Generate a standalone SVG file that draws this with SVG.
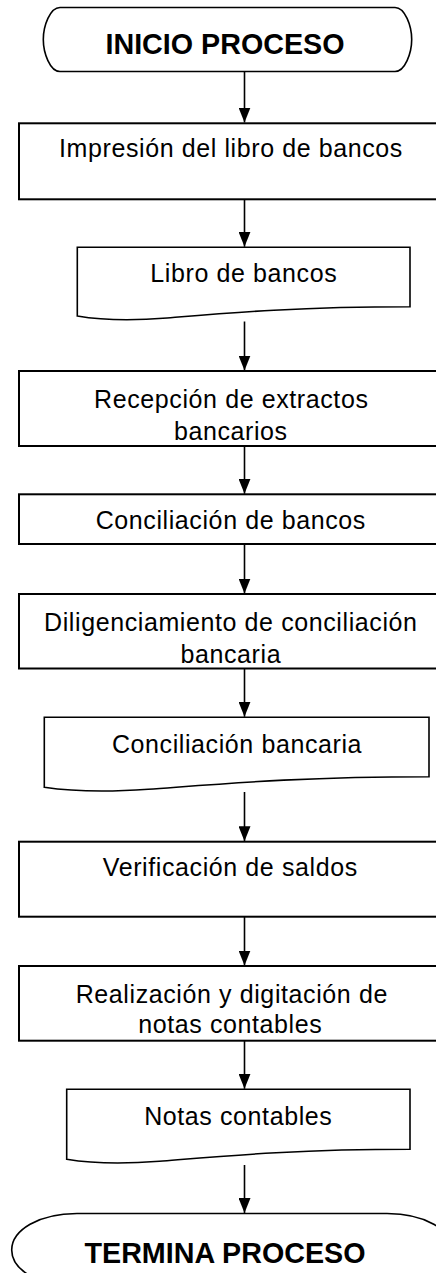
<svg xmlns="http://www.w3.org/2000/svg" width="436" height="1273" viewBox="0 0 436 1273">
<style>
.shape{fill:#fff;stroke:#000;stroke-width:1.6}
.box{fill:#fff;stroke:#000;stroke-width:2}
.t{font-family:"Liberation Sans",Arial,sans-serif;font-size:25px;letter-spacing:0.6px;text-anchor:middle;fill:#000}
.b{font-family:"Liberation Sans",Arial,sans-serif;font-size:28.7px;font-weight:bold;text-anchor:middle;fill:#000}
.c{stroke:#000;stroke-width:1.6;fill:none;marker-end:url(#ah)}
</style>
<defs>
<marker id="ah" viewBox="0 0 15 12" refX="15" refY="6" markerWidth="15" markerHeight="12" markerUnits="userSpaceOnUse" orient="auto">
<path d="M0,0 L15,6 L0,12 Z" fill="#000"/>
</marker>
</defs>
<rect width="436" height="1273" fill="#fff"/>
<g id="connectors">
<line class="c" x1="244.5" y1="72" x2="244.5" y2="122.5"/>
<line class="c" x1="244.5" y1="198" x2="244.5" y2="246.8"/>
<line class="c" x1="244.5" y1="321.5" x2="244.5" y2="370.5"/>
<line class="c" x1="244.5" y1="446" x2="244.5" y2="493.8"/>
<line class="c" x1="244.5" y1="544" x2="244.5" y2="593.5"/>
<line class="c" x1="244.5" y1="668.5" x2="244.5" y2="716.8"/>
<line class="c" x1="244.5" y1="792" x2="244.5" y2="841.2"/>
<line class="c" x1="244.5" y1="917" x2="244.5" y2="965.5"/>
<line class="c" x1="244.5" y1="1041" x2="244.5" y2="1088.8"/>
<line class="c" x1="244.5" y1="1165" x2="244.5" y2="1213"/>
</g>
<g id="inicio">
<path class="shape" d="M60,7.5 H395 C405,7.5 411.7,26 411.7,39.5 C411.7,53 405,71.5 395,71.5 H60 C50,71.5 43.3,53 43.3,39.5 C43.3,26 50,7.5 60,7.5 Z"/>
<text class="b" x="225" y="53.5">INICIO PROCESO</text>
</g>
<g id="impresion">
<rect class="box" x="19" y="123.3" width="423" height="76"/>
<text class="t" x="231" y="157">Impresión del libro de bancos</text>
</g>
<g id="libro">
<path class="shape" d="M77.3,247.3 H410 V306.7 C296.9,306.7 227,313 167.1,318 C130.5,321 100.6,320 77.3,316 Z"/>
<text class="t" x="243.8" y="281.7">Libro de bancos</text>
</g>
<g id="recepcion">
<rect class="box" x="19" y="371" width="423" height="75"/>
<text class="t" x="231.3" y="407.5">Recepción de extractos</text>
<text class="t" x="230.8" y="439.5">bancarios</text>
</g>
<g id="conciliacion-bancos">
<rect class="box" x="19" y="494.3" width="423" height="49.7"/>
<text class="t" x="230.8" y="529.3">Conciliación de bancos</text>
</g>
<g id="diligenciamiento">
<rect class="box" x="19" y="594" width="423" height="74.5"/>
<text class="t" x="230.8" y="630.7">Diligenciamiento de conciliación</text>
<text class="t" x="230.8" y="663">bancaria</text>
</g>
<g id="conciliacion-bancaria">
<path class="shape" d="M44.3,717.3 H429 V776.7 C298.2,776.7 217.4,784.3 148.2,789.3 C105.9,792.3 71.2,791.3 44.3,787.3 Z"/>
<text class="t" x="237" y="752.7">Conciliación bancaria</text>
</g>
<g id="verificacion">
<rect class="box" x="19" y="841.7" width="423" height="75"/>
<text class="t" x="230.3" y="875.7">Verificación de saldos</text>
</g>
<g id="realizacion">
<rect class="box" x="19" y="966" width="423" height="74.7"/>
<text class="t" x="231.8" y="1003.3">Realización y digitación de</text>
<text class="t" x="230.3" y="1033.3">notas contables</text>
</g>
<g id="notas">
<path class="shape" d="M66.7,1089.3 H410 V1149.3 C293.3,1149.3 221.2,1156.3 159.4,1161.3 C121.6,1164.3 90.7,1163.3 66.7,1159.3 Z"/>
<text class="t" x="238.3" y="1125">Notas contables</text>
</g>
<g id="termina">
<path class="shape" d="M77,1213.5 H387 C425,1213.5 452,1230 452,1250 C452,1270 425,1286.5 387,1286.5 H77 C39,1286.5 11.7,1270 11.7,1250 C11.7,1230 39,1213.5 77,1213.5 Z"/>
<text class="b" x="225" y="1262.7">TERMINA PROCESO</text>
</g>
</svg>
